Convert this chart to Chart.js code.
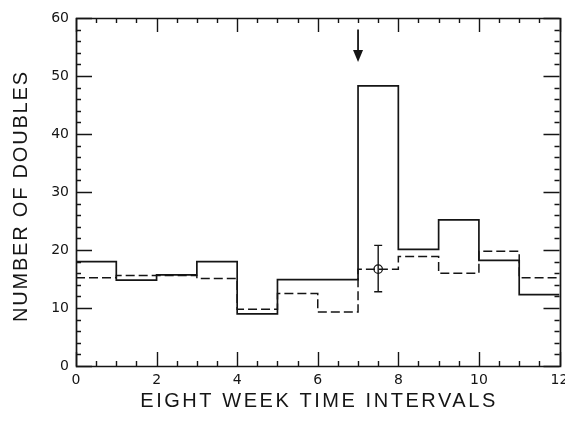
<!DOCTYPE html>
<html><head><meta charset="utf-8">
<script src="https://cdn.jsdelivr.net/npm/chart.js@4/dist/chart.umd.min.js"></script>
<style>html,body{margin:0;padding:0;background:#fff;}#wrap{width:565px;height:421px;position:relative;}</style>
</head><body><div id="wrap"><canvas id="c" width="565" height="421" style="width:565px;height:421px;"></canvas></div>
<script>
// ---- data ----
const binEdges = [0,1,2,3,4,5,6,7,8,9,10,11,12];
const observedDoubles = [18.0,14.8,15.7,18.0,9.0,14.9,14.9,48.3,20.1,25.2,18.2,12.3];
const expectedDoubles = [15.2,15.6,15.6,15.1,9.8,12.5,9.3,16.7,18.9,16.0,19.8,15.2];
const errPointX = [7.5];
const errPointY = [16.7];
const errLow = [12.8];
const errHigh = [20.8];
const arrowX = [7];
const arrowFrom = [58.0];
const arrowTo = [52.4];
const xTickValues = [0,2,4,6,8,10,12];
const yTickValues = [0,10,20,30,40,50,60];
const xTitle = 'EIGHT WEEK TIME INTERVALS';
const yTitle = 'NUMBER OF DOUBLES';

function stepPoints(edges, vals){
  const pts = vals.map((v,i)=>({x:edges[i], y:v}));
  pts.push({x:edges[vals.length], y:vals[vals.length-1]});
  return pts;
}

const INK = '#151515';

const decor = {
  id:'decor',
  afterDatasetsDraw(chart){
    const {ctx, chartArea:a, scales:{x,y}} = chart;
    ctx.save();
    ctx.strokeStyle = INK; ctx.fillStyle = INK;
    ctx.setLineDash([]);
    // frame
    ctx.lineWidth = 1.7;
    ctx.beginPath();
    ctx.rect(Math.round(a.left)+0.5, Math.round(a.top)+0.5, Math.round(a.right-a.left), Math.round(a.bottom-a.top));
    ctx.stroke();
    // inward ticks
    ctx.lineWidth = 1.4;
    ctx.beginPath();
    for (let v=0; v<=12.0001; v+=0.5){
      const px = Math.round(x.getPixelForValue(v))+0.5;
      const L = (Math.abs(v/2-Math.round(v/2))<1e-6) ? 14 : 5;
      ctx.moveTo(px, a.bottom); ctx.lineTo(px, a.bottom-L);
      ctx.moveTo(px, a.top); ctx.lineTo(px, a.top+L);
    }
    for (let v=0; v<=60.0001; v+=2){
      const py = Math.round(y.getPixelForValue(v))+0.5;
      const L = (v%10===0) ? 16 : 5;
      ctx.moveTo(a.left, py); ctx.lineTo(a.left+L, py);
      ctx.moveTo(a.right, py); ctx.lineTo(a.right-L, py);
    }
    ctx.stroke();
    // error bars
    ctx.lineWidth = 1.4;
    errPointX.forEach((ex,i)=>{
      const px = x.getPixelForValue(ex);
      const lo = y.getPixelForValue(errLow[i]);
      const hi = y.getPixelForValue(errHigh[i]);
      ctx.beginPath();
      ctx.moveTo(px, lo); ctx.lineTo(px, hi);
      ctx.moveTo(px-4, lo); ctx.lineTo(px+4, lo);
      ctx.moveTo(px-4, hi); ctx.lineTo(px+4, hi);
      ctx.stroke();
    });
    // arrow
    arrowX.forEach((ax,i)=>{
      const px = x.getPixelForValue(ax);
      const y0 = y.getPixelForValue(arrowFrom[i]);
      const y1 = y.getPixelForValue(arrowTo[i]);
      ctx.lineWidth = 1.8;
      ctx.beginPath(); ctx.moveTo(px, y0); ctx.lineTo(px, y1-10); ctx.stroke();
      ctx.beginPath(); ctx.moveTo(px-5, y1-12); ctx.lineTo(px+5, y1-12); ctx.lineTo(px, y1); ctx.closePath(); ctx.fill();
    });
    // axis titles
    ctx.font = '20px "Liberation Sans", Arial, sans-serif';
    ctx.textAlign = 'center'; ctx.textBaseline = 'middle';
    const fit = (txt, w) => {
      ctx.letterSpacing = '0px';
      const m = ctx.measureText(txt).width;
      return Math.max(0, (w - m) / (txt.length - 1));
    };
    let sp = fit(xTitle, 355);
    ctx.letterSpacing = sp + 'px';
    ctx.fillText(xTitle, (a.left+a.right)/2 + sp/2, 401);
    sp = fit(yTitle, 250);
    ctx.save();
    ctx.translate(21, 197);
    ctx.rotate(-Math.PI/2);
    ctx.letterSpacing = sp + 'px';
    ctx.fillText(yTitle, sp/2, 0);
    ctx.restore();
    ctx.restore();
  }
};

new Chart(document.getElementById('c'), {
  type:'line',
  data:{
    datasets:[
      {label:'observed', data:stepPoints(binEdges, observedDoubles), stepped:'before',
       borderColor:INK, borderWidth:1.7, pointRadius:0, fill:false},
      {label:'expected', data:stepPoints(binEdges, expectedDoubles), stepped:'before',
       borderColor:INK, borderWidth:1.5, borderDash:[9,4], pointRadius:0, fill:false},
      {type:'scatter', label:'mean', data:errPointX.map((v,i)=>({x:v,y:errPointY[i]})),
       pointRadius:4.2, pointBackgroundColor:'#fff', pointBorderColor:INK, pointBorderWidth:1.3, showLine:false}
    ]
  },
  options:{
    responsive:false, maintainAspectRatio:false, animation:false, devicePixelRatio:1,
    layout:{padding:{top:18, right:5, left:0, bottom:0}},
    plugins:{legend:{display:false}, tooltip:{enabled:false}},
    scales:{
      x:{type:'linear', min:0, max:12,
         grid:{display:false, drawTicks:false}, border:{display:false},
         afterBuildTicks(s){ s.ticks = xTickValues.map(v=>({value:v})); },
         ticks:{color:INK, font:{family:'"DejaVu Sans"', size:14}, padding:6, maxRotation:0, autoSkip:false},
         afterFit(s){ s.height = 55; s.paddingLeft=0; s.paddingRight=0; }
      },
      y:{min:0, max:60,
         grid:{display:false, drawTicks:false}, border:{display:false},
         afterBuildTicks(s){ s.ticks = yTickValues.map(v=>({value:v})); },
         ticks:{color:INK, font:{family:'"DejaVu Sans"', size:14}, padding:7, autoSkip:false},
         afterFit(s){ s.width = 76; s.paddingTop=0; s.paddingBottom=0; }
      }
    }
  },
  plugins:[decor]
});
</script>
</body></html>
